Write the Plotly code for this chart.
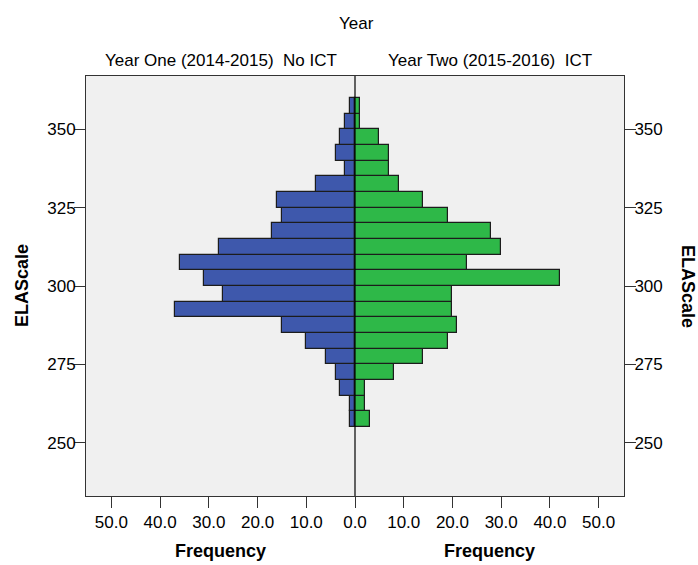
import plotly.graph_objects as go

# Bin lower edges of ELAScale (bin width 5)
bin_lower = [255, 260, 265, 270, 275, 280, 285, 290, 295, 300, 305,
             310, 315, 320, 325, 330, 335, 340, 345, 350, 355]
bin_width = 5
year_one_no_ict = [1, 1, 3, 4, 6, 10, 15, 37, 27, 31, 36,
                   28, 17, 15, 16, 8, 2, 4, 3, 2, 1]
year_two_ict = [3, 2, 2, 8, 14, 19, 21, 20, 20, 42, 23,
                30, 28, 19, 14, 9, 7, 7, 5, 1, 1]

freq_ticks = [-50, -40, -30, -20, -10, 0, 10, 20, 30, 40, 50]
freq_labels = ["50.0", "40.0", "30.0", "20.0", "10.0", "0.0",
               "10.0", "20.0", "30.0", "40.0", "50.0"]
y_ticks = [250, 275, 300, 325, 350]

centers = [b + bin_width / 2 for b in bin_lower]
FONT = "Liberation Sans, Arial, sans-serif"

fig = go.Figure()
fig.add_trace(go.Bar(
    y=centers, x=[-v for v in year_one_no_ict], orientation="h",
    width=bin_width, marker=dict(color="#3E58AC", line=dict(color="#1c1c1c", width=1.2)),
    name="Year One (2014-2015)  No ICT", showlegend=False))
fig.add_trace(go.Bar(
    y=centers, x=year_two_ict, orientation="h",
    width=bin_width, marker=dict(color="#2EB848", line=dict(color="#1c1c1c", width=1.2)),
    name="Year Two (2015-2016)  ICT", showlegend=False))
# invisible trace to anchor the right-hand axis
fig.add_trace(go.Scatter(x=[0], y=[300], yaxis="y2", mode="markers",
                         marker=dict(opacity=0), hoverinfo="skip", showlegend=False))

axis_common = dict(showgrid=False, zeroline=False, ticks="outside", ticklen=11,
                   tickcolor="#333", linecolor="#333", showline=True,
                   tickfont=dict(family=FONT, size=17, color="#000"))

fig.update_layout(
    width=698, height=565,
    margin=dict(l=86, r=74, t=76, b=69, autoexpand=False),
    paper_bgcolor="white", plot_bgcolor="#F0F0F0",
    barmode="overlay", bargap=0,
    font=dict(family=FONT, color="#000"),
    xaxis=dict(range=[-55.2, 55.2], tickvals=freq_ticks, ticktext=freq_labels,
               mirror=True, **axis_common),
    yaxis=dict(range=[233, 367], tickvals=y_ticks, mirror=False,
               ticklabelstandoff=-5, **axis_common),
    yaxis2=dict(range=[233, 367], tickvals=y_ticks, overlaying="y", side="right",
                ticklabelstandoff=-5, **axis_common),
    shapes=[dict(type="line", xref="x", yref="paper", x0=0, x1=0, y0=0, y1=1,
                 line=dict(color="#000", width=1.2))],
    annotations=[
        dict(text="Year", xref="paper", yref="paper", x=0.502, y=1, yshift=53,
             xanchor="center", yanchor="middle",
             showarrow=False, font=dict(size=17, family=FONT)),
        dict(text="Year One (2014-2015)  No ICT", xref="paper", yref="paper",
             x=0.25, y=1, yshift=16, xanchor="center", yanchor="middle",
             showarrow=False, font=dict(size=17, family=FONT)),
        dict(text="Year Two (2015-2016)  ICT", xref="paper", yref="paper",
             x=0.75, y=1, yshift=16, xanchor="center", yanchor="middle",
             showarrow=False, font=dict(size=17, family=FONT)),
        dict(text="<b>Frequency</b>", xref="paper", yref="paper", x=0.25, y=0,
             yshift=-55, xanchor="center", yanchor="middle",
             showarrow=False, font=dict(size=18, family=FONT)),
        dict(text="<b>Frequency</b>", xref="paper", yref="paper", x=0.75, y=0,
             yshift=-55, xanchor="center", yanchor="middle",
             showarrow=False, font=dict(size=18, family=FONT)),
        dict(text="<b>ELAScale</b>", xref="paper", yref="y", x=0, y=300, xshift=-64,
             xanchor="center", yanchor="middle",
             textangle=-90, showarrow=False, font=dict(size=18, family=FONT)),
        dict(text="<b>ELAScale</b>", xref="paper", yref="y", x=1, y=300, xshift=64,
             xanchor="center", yanchor="middle",
             textangle=90, showarrow=False, font=dict(size=18, family=FONT)),
    ],
)

fig.write_html("out.html", config={"displayModeBar": False},
               post_script="document.body.style.margin='0px';")
